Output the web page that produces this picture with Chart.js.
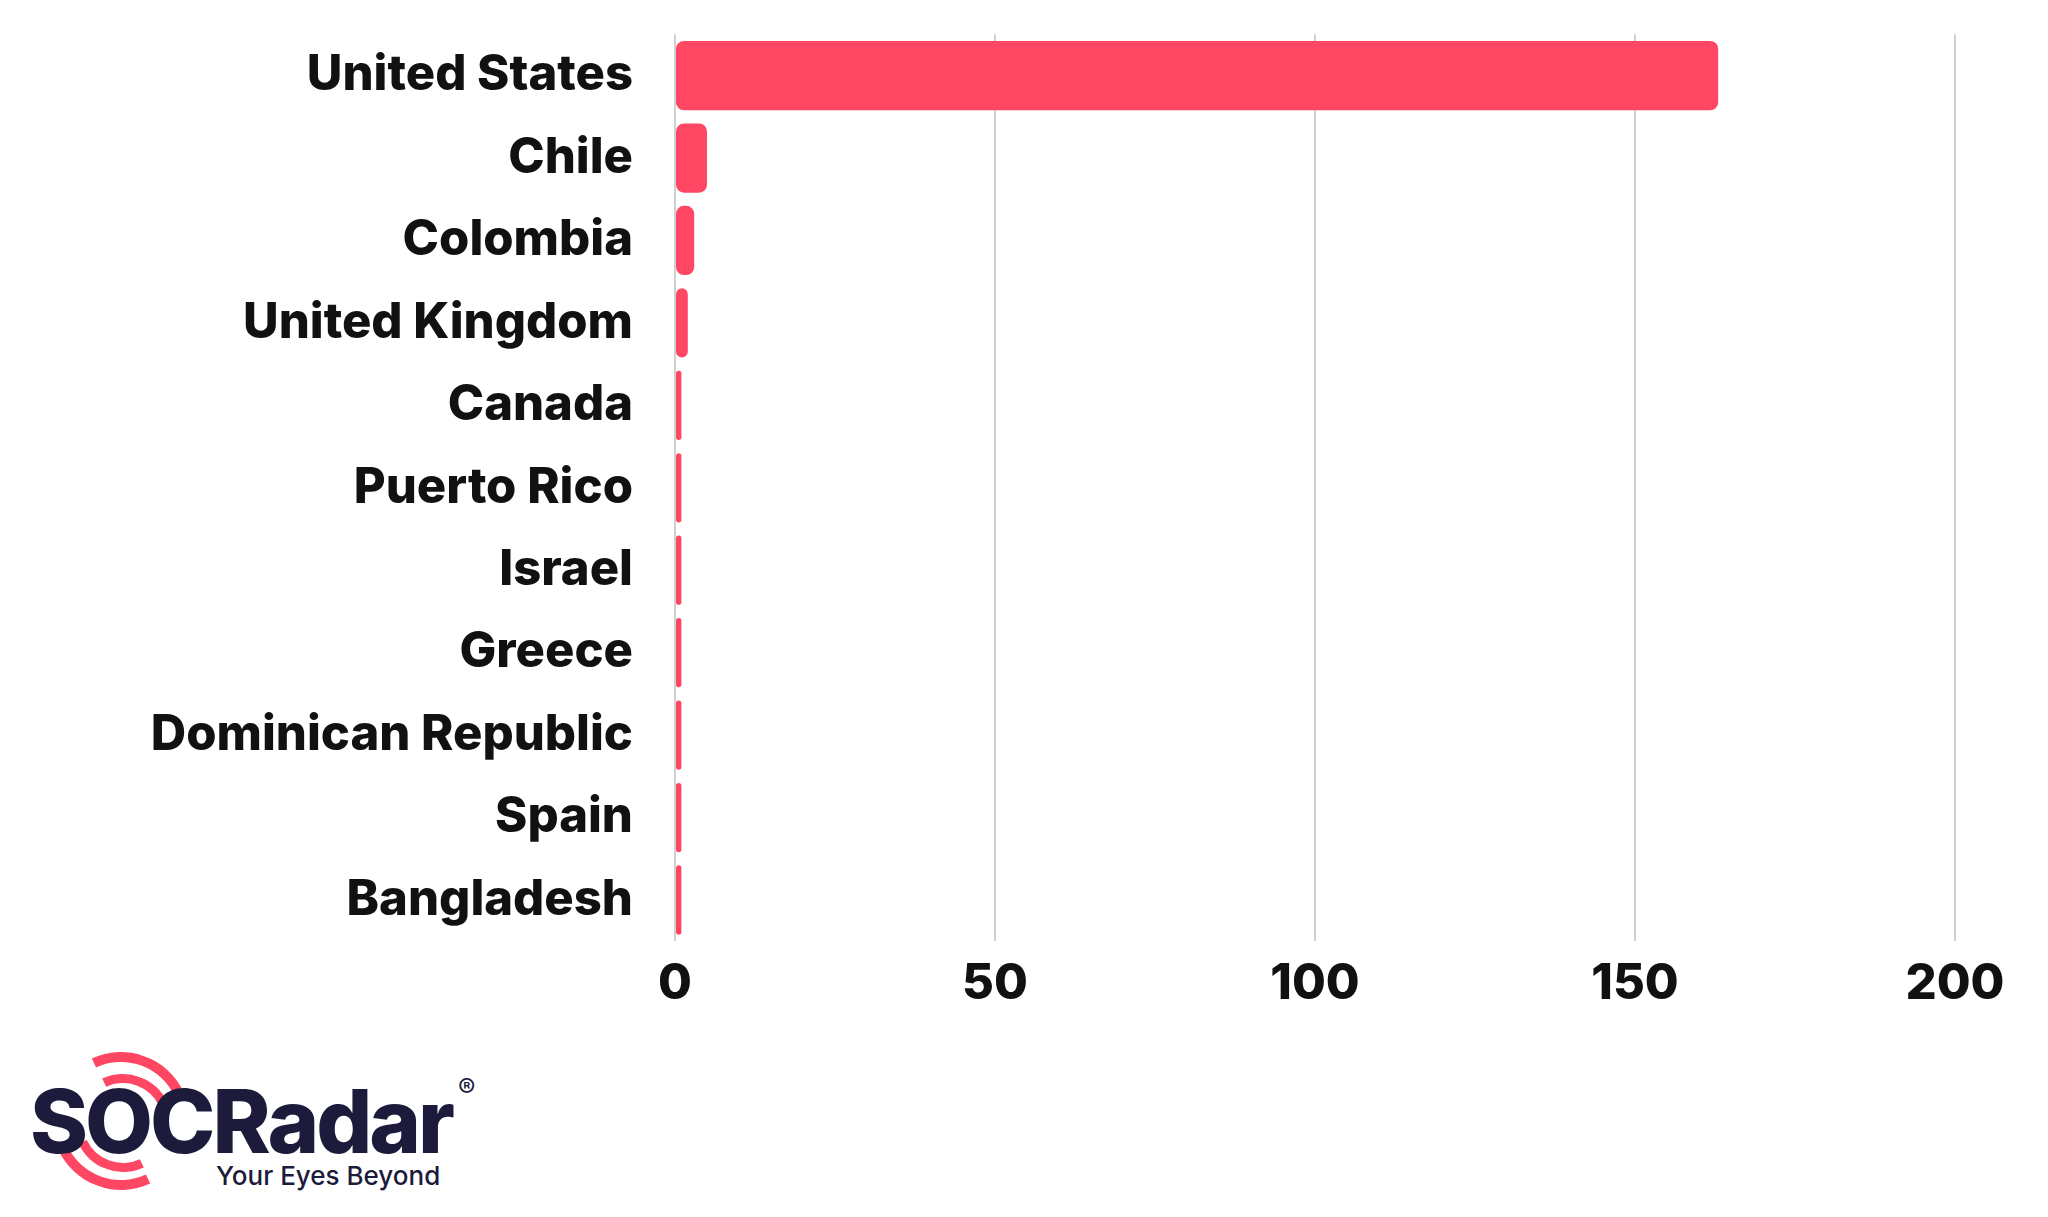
<!DOCTYPE html>
<html lang="en">
<head>
    <meta charset="UTF-8">
    <title>Countries</title>
    <script src="https://cdn.jsdelivr.net/npm/chart.js"></script>
    <style>
        body { margin: 0; background: #fff; font-family: Inter, sans-serif; overflow: hidden; }
        .wrap { position: absolute; left: 0; top: -29px; width: 2048px; height: 1057px; }
        .logo { position: absolute; left: 0; top: 0; }
        .ring { position: absolute; border-radius: 50%; border-style: solid; border-color: #ff4763; border-left-color: transparent; border-right-color: transparent; }
        .brand { position: absolute; left: 30px; top: 1068px; font: 800 88px Inter, sans-serif; color: #1d1b3b; letter-spacing: -3px; }
        .tag { position: absolute; left: 216px; top: 1160px; font: 500 26px Inter, sans-serif; color: #1d1b3b; white-space: nowrap; }
        .reg { position: absolute; left: 458px; top: 1072px; font: 400 26px Inter, sans-serif; color: #1d1b3b; }
    </style>
</head>
<body>
    <div class="wrap"><canvas id="chart"></canvas></div>
    <div class="logo">
        <div class="ring" style="left:52px;top:1052px;width:118px;height:118px;border-width:10px;transform:rotate(20deg)"></div>
        <div class="ring" style="left:74px;top:1074px;width:80px;height:80px;border-width:9px;transform:rotate(20deg)"></div>
        <div class="brand">SOCRadar</div>
        <div class="reg">®</div>
        <div class="tag">Your Eyes Beyond</div>
    </div>
    <script>
        const countries = ['United States', 'Chile', 'Colombia', 'United Kingdom', 'Canada', 'Puerto Rico',
            'Israel', 'Greece', 'Dominican Republic', 'Spain', 'Bangladesh'];
        const counts = [163, 5, 3, 2, 1, 1, 1, 1, 1, 1, 1];
        const xTicks = [0, 50, 100, 150, 200];

        const font = { family: 'Inter, sans-serif', size: 49, weight: 800 };

        new Chart(document.getElementById('chart'), {
            type: 'bar',
            data: {
                labels: countries,
                datasets: [{
                    data: counts,
                    backgroundColor: '#ff4763',
                    borderRadius: 8,
                    borderSkipped: false,
                    categoryPercentage: 0.84,
                    barPercentage: 1
                }]
            },
            options: {
                indexAxis: 'y',
                responsive: true,
                maintainAspectRatio: false,
                animation: false,
                layout: { padding: { top: -29, right: 93, bottom: 0, left: 0 } },
                plugins: { legend: { display: false }, tooltip: { enabled: false } },
                scales: {
                    x: {
                        min: 0, max: 200,
                        afterBuildTicks: s => { s.ticks = xTicks.map(v => ({ value: v })); },
                        grid: { color: '#d0d0d0', lineWidth: 2, drawTicks: false },
                        border: { display: false },
                        ticks: { font: font, color: '#111', padding: 14 }
                    },
                    y: {
                        afterFit: s => { s.width = 675; },
                        grid: { display: false },
                        border: { display: false },
                        ticks: { font: font, color: '#111', padding: 34 }
                    }
                }
            }
        });
    </script>
</body>
</html>
